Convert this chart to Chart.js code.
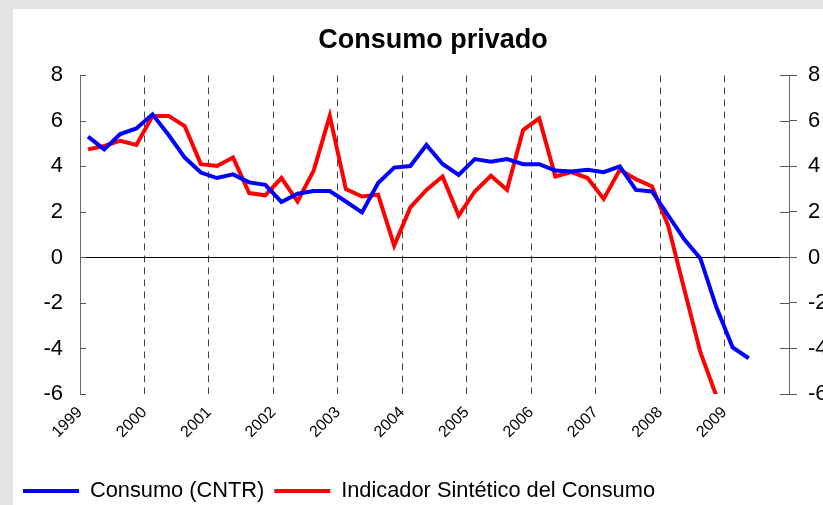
<!DOCTYPE html>
<html>
<head>
<meta charset="utf-8">
<script src="https://cdn.jsdelivr.net/npm/chart.js@4.4.0/dist/chart.umd.min.js"></script>
<style>
  body { margin: 0; background: #e4e4e4; overflow: hidden; }
  #wrap { position: absolute; left: 13px; top: 9px; width: 840px; height: 496px; background: #fff; }
</style>
</head>
<body>
<div id="wrap"><canvas id="consumoChart" width="840" height="496"></canvas></div>
<script>
// Tick labels (one per year, at the start of each year)
const years = ['1999', '2000', '2001', '2002', '2003', '2004', '2005', '2006', '2007', '2008', '2009'];

// Quarterly values, 1999 T1 onwards
const consumoCNTR = [5.31, 4.75, 5.42, 5.67, 6.29, 5.38, 4.39, 3.73, 3.49, 3.65,
    3.30, 3.19, 2.44, 2.80, 2.92, 2.92, 2.46, 1.98, 3.27, 3.95,
    4.02, 4.94, 4.11, 3.63, 4.32, 4.21, 4.32, 4.10, 4.10, 3.82,
    3.78, 3.85, 3.75, 4.00, 2.97, 2.90, 1.85, 0.80, -0.04, -2.20,
    -3.95, -4.43];

const indicadorSintetico = [4.75, 4.90, 5.13, 4.94, 6.22, 6.22, 5.77, 4.10, 4.02, 4.39,
    2.83, 2.73, 3.49, 2.46, 3.81, 6.22, 3.00, 2.68, 2.76, 0.52,
    2.20, 2.97, 3.56, 1.84, 2.90, 3.59, 2.97, 5.60, 6.11, 3.56,
    3.75, 3.49, 2.57, 3.85, 3.44, 3.12, 1.40, -1.40, -4.16, -6.10];

const yMin = -6, yMax = 8;

// each quarter sits in the middle of its slot on the year axis
function toPoints(values) {
    return values.map((v, i) => ({ x: i + 0.5, y: v }));
}

// inward tick marks on the left axis, crossing ticks on the right one
const axisTicks = {
    id: 'axisTicks',
    afterDatasetsDraw(chart) {
        const ctx = chart.ctx;
        const area = chart.chartArea;
        ctx.save();
        ctx.strokeStyle = '#555';
        ctx.lineWidth = 1;
        chart.scales.y.ticks.forEach(t => {
            const y = Math.round(chart.scales.y.getPixelForValue(t.value)) + 0.5;
            ctx.beginPath();
            ctx.moveTo(area.left, y);
            ctx.lineTo(area.left + 6, y);
            ctx.stroke();
        });
        chart.scales.y2.ticks.forEach(t => {
            const y = Math.round(chart.scales.y2.getPixelForValue(t.value)) + 0.5;
            ctx.beginPath();
            ctx.moveTo(area.right - 9, y);
            ctx.lineTo(area.right, y);
            ctx.stroke();
        });
        ctx.restore();
    }
};

const font = "'Liberation Sans', Arial, sans-serif";

new Chart(document.getElementById('consumoChart').getContext('2d'), {
    type: 'line',
    data: {
        datasets: [{
            label: 'Consumo (CNTR)',
            data: toPoints(consumoCNTR),
            borderColor: '#0000ff',
            backgroundColor: '#0000ff',
            borderWidth: 4,
            pointRadius: 0,
            tension: 0
        },
        {
            label: 'Indicador Sintético del Consumo',
            data: toPoints(indicadorSintetico),
            borderColor: '#ff0000',
            backgroundColor: '#ff0000',
            borderWidth: 4,
            pointRadius: 0,
            tension: 0
        }]
    },
    options: {
        responsive: false,
        animation: false,
        devicePixelRatio: 1,
        layout: { padding: { bottom: -7 } },
        plugins: {
            title: {
                display: true,
                text: 'Consumo privado',
                color: '#000',
                font: { family: font, size: 27, weight: 'bold' },
                padding: { top: 15, bottom: 19 }
            },
            legend: {
                position: 'bottom',
                align: 'start',
                labels: {
                    color: '#000',
                    font: { family: font, size: 21.8 },
                    usePointStyle: true,
                    pointStyle: 'line',
                    pointStyleWidth: 56,
                    padding: 10
                }
            },
            tooltip: { enabled: false }
        },
        scales: {
            x: {
                type: 'linear',
                min: 0,
                max: years.length * 4,
                afterFit: scale => { scale.height = 118 - scale.chart.legend.height; },
                border: { display: false, dash: [7, 5] },
                grid: {
                    drawTicks: false,
                    color: ctx => (ctx.tick.value === 0 || ctx.tick.value === years.length * 4) ? 'rgba(0,0,0,0)' : '#444'
                },
                ticks: {
                    stepSize: 4,
                    autoSkip: false,
                    maxRotation: 45,
                    minRotation: 45,
                    padding: 9,
                    color: '#000',
                    font: { family: font, size: 16 },
                    callback: v => years[v / 4] || ''
                }
            },
            y: {
                position: 'left',
                min: yMin,
                max: yMax,
                afterFit: scale => { scale.width = 67; },
                border: { display: true, color: '#666', width: 1 },
                grid: {
                    drawTicks: false,
                    color: ctx => ctx.tick.value === 0 ? '#000' : 'rgba(0,0,0,0)'
                },
                ticks: {
                    stepSize: 2,
                    padding: 17,
                    color: '#000',
                    font: { family: font, size: 22 }
                }
            },
            y2: {
                position: 'right',
                min: yMin,
                max: yMax,
                afterFit: scale => { scale.width = 64; },
                border: { display: true, color: '#666', width: 1 },
                grid: {
                    drawOnChartArea: false,
                    drawTicks: true,
                    tickLength: 8,
                    color: '#555'
                },
                ticks: {
                    stepSize: 2,
                    padding: 11,
                    color: '#000',
                    font: { family: font, size: 22 }
                }
            }
        }
    },
    plugins: [axisTicks]
});
</script>
</body>
</html>
